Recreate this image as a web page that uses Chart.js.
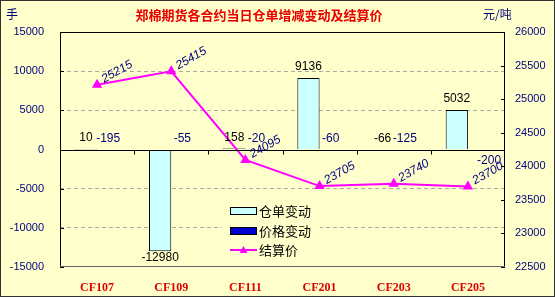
<!DOCTYPE html>
<html>
<head>
<meta charset="utf-8">
<script src="https://cdn.jsdelivr.net/npm/chart.js@4.4.1/dist/chart.umd.min.js"></script>
<style>
  html, body { margin: 0; padding: 0; background: #ffffcc; }
</style>
</head>
<body>
<canvas id="cotton" width="555" height="297"></canvas>
<script>
"use strict"
// data
const contracts = ["CF107", "CF109", "CF111", "CF201", "CF203", "CF205"];
const receiptChange = [10, -12980, 158, 9136, -66, 5032];   // 仓单变动 (手)
const priceChange = [-195, -55, -20, -60, -125, -200];      // 价格变动
const settlePrice = [25215, 25415, 24095, 23705, 23740, 23700]; // 结算价 (元/吨)
const seriesNames = ["仓单变动", "价格变动", "结算价"];
const chartTitle = "郑棉期货各合约当日仓单增减变动及结算价";

const BG = "#ffffcc";
const NAVY = "#000080";
const CJK = "'Noto Sans CJK SC', sans-serif";
const SANS = "'Liberation Sans', Arial, sans-serif";

// background, frame, title, units
const backdrop = {
  id: "backdrop",
  beforeDraw(chart) {
    const c = chart.ctx;
    c.save();
    c.fillStyle = BG;
    c.fillRect(0, 0, chart.width, chart.height);
    c.strokeStyle = "#333";
    c.lineWidth = 1;
    c.strokeRect(0.5, 0.5, chart.width - 1, chart.height - 1);
    c.fillStyle = "#e80000";
    c.font = "bold 13px " + CJK;
    c.textAlign = "center";
    c.textBaseline = "middle";
    c.fillText(chartTitle, 259, 15);
    c.fillStyle = NAVY;
    c.font = "12px " + CJK;
    c.textAlign = "left";
    c.fillText("手", 6, 14);
    c.fillText("元/吨", 483, 14);
    c.restore();
  }
};

// frame of plot, zero line, ticks, value labels, legend
const overlay = {
  id: "overlay",
  afterDatasetsDraw(chart) {
    const c = chart.ctx;
    const a = chart.chartArea;
    const x = chart.scales.x, y = chart.scales.y, y1 = chart.scales.y1;
    c.save();
    c.lineWidth = 1;
    c.strokeStyle = "#000";
    // frame
    c.beginPath();
    c.moveTo(a.left + 0.5, a.top + 0.5); c.lineTo(a.right - 0.5, a.top + 0.5);
    c.moveTo(a.left + 0.5, a.top); c.lineTo(a.left + 0.5, a.bottom);
    c.moveTo(a.right - 0.5, a.top); c.lineTo(a.right - 0.5, a.bottom);
    c.stroke();
    c.strokeStyle = "#666";
    c.beginPath();
    c.moveTo(a.left, a.bottom - 0.5); c.lineTo(a.right, a.bottom - 0.5);
    c.stroke();
    // zero line + category ticks
    const z = Math.round(y.getPixelForValue(0)) + 0.5;
    c.strokeStyle = "#000";
    c.beginPath();
    c.moveTo(a.left, z); c.lineTo(a.right, z);
    for (let i = 1; i < contracts.length; i++) {
      const bx = Math.round((x.getPixelForValue(i - 1) + x.getPixelForValue(i)) / 2) + 0.5;
      c.moveTo(bx, z); c.lineTo(bx, z + 4);
    }
    // inward axis ticks
    y.ticks.forEach(t => {
      const py = Math.round(y.getPixelForValue(t.value)) + 0.5;
      c.moveTo(a.left, py); c.lineTo(a.left + 4, py);
    });
    y1.ticks.forEach(t => {
      const py = Math.round(y1.getPixelForValue(t.value)) + 0.5;
      c.moveTo(a.right - 4, py); c.lineTo(a.right, py);
    });
    c.stroke();

    // bar value labels
    c.font = "12px " + SANS;
    c.textAlign = "center";
    chart.getDatasetMeta(0).data.forEach((bar, i) => {
      const v = receiptChange[i];
      c.fillStyle = "#000";
      if (v >= 0 || Math.abs(bar.y - bar.base) < 10) {
        c.textBaseline = "bottom";
        c.fillText(String(v), bar.x, Math.min(bar.y, bar.base) - 5);
      } else {
        c.textBaseline = "top";
        c.fillText(String(v), bar.x, bar.y + 1);
      }
    });
    const pm = chart.getDatasetMeta(1).data;
    pm.forEach((bar, i) => {
      c.fillStyle = NAVY;
      if (i === pm.length - 1) {
        c.textBaseline = "top";
        c.fillText(String(priceChange[i]), bar.x + 10, bar.base + 5);
      } else {
        c.textBaseline = "bottom";
        c.fillText(String(priceChange[i]), bar.x, bar.base - 5);
      }
    });

    // price labels, rotated
    c.fillStyle = NAVY;
    c.font = "italic 12px " + SANS;
    c.textAlign = "center";
    c.textBaseline = "middle";
    chart.getDatasetMeta(2).data.forEach((pt, i) => {
      c.save();
      c.translate(pt.x + 20, pt.y - 13);
      c.rotate(-0.52);
      c.fillText(String(settlePrice[i]), 0, 0);
      c.restore();
    });

    // legend inside the plot
    c.fillStyle = BG;
    c.fillRect(222, 199, 98, 62);
    c.font = "13px " + CJK;
    c.textAlign = "left";
    c.textBaseline = "middle";
    c.fillStyle = "#ccffff";
    c.fillRect(230.5, 207.5, 26, 7);
    c.strokeStyle = "#000";
    c.strokeRect(230.5, 207.5, 26, 7);
    c.fillStyle = "#0000cc";
    c.fillRect(230.5, 227.5, 26, 7);
    c.strokeRect(230.5, 227.5, 26, 7);
    c.strokeStyle = "#ff00ff";
    c.lineWidth = 2;
    c.beginPath();
    c.moveTo(230, 250); c.lineTo(257, 250);
    c.stroke();
    c.fillStyle = "#ff00ff";
    c.beginPath();
    c.moveTo(243.5, 246); c.lineTo(247.5, 253); c.lineTo(239.5, 253);
    c.closePath();
    c.fill();
    c.fillStyle = "#000";
    c.fillText(seriesNames[0], 259, 211);
    c.fillText(seriesNames[1], 259, 231);
    c.fillText(seriesNames[2], 259, 250);
    c.restore();
  }
};

const cottonC = document.getElementById("cotton");
const cottonChart = new Chart(cottonC, {
  data: {
    labels: contracts,
    datasets: [
      {
        type: "bar",
        label: seriesNames[0],
        data: receiptChange,
        backgroundColor: "#ccffff",
        borderColor: "#000",
        borderWidth: 1,
        yAxisID: "y",
        categoryPercentage: 0.6,
        barPercentage: 1.0,
        order: 2
      },
      {
        type: "bar",
        label: seriesNames[1],
        data: priceChange,
        backgroundColor: "#0000cc",
        borderColor: "#000",
        borderWidth: 1,
        yAxisID: "y",
        categoryPercentage: 0.6,
        barPercentage: 1.0,
        order: 2
      },
      {
        type: "line",
        label: seriesNames[2],
        data: settlePrice,
        borderColor: "#ff00ff",
        backgroundColor: "#ff00ff",
        borderWidth: 2,
        pointStyle: "triangle",
        pointRadius: 4,
        tension: 0,
        yAxisID: "y1",
        order: 1
      }
    ]
  },
  options: {
    responsive: false,
    animation: false,
    layout: { padding: { top: 32, left: 0, right: 0, bottom: 0 } },
    plugins: {
      legend: { display: false },
      tooltip: { enabled: false }
    },
    scales: {
      x: {
        offset: true,
        grid: { display: false },
        border: { display: false },
        ticks: { color: "#dd0000", padding: 6, font: { family: "'Liberation Serif', serif", weight: "bold", size: 12 } },
        afterFit: s => { s.height = 30; }
      },
      y: {
        position: "left",
        min: -15000,
        max: 15000,
        ticks: {
          stepSize: 5000, color: NAVY, padding: 16, font: { family: SANS, size: 11 },
          callback: v => String(v)
        },
        grid: {
          drawTicks: false,
          color: ctx => (Math.abs(ctx.tick.value) % 15000 === 0 ? "rgba(0,0,0,0)" : "#aaaaaa")
        },
        border: { display: false, dash: [4, 3] },
        afterFit: s => { s.width = 60; }
      },
      y1: {
        position: "right",
        min: 22500,
        max: 26000,
        ticks: {
          stepSize: 500, color: NAVY, padding: 10, font: { family: SANS, size: 11 },
          callback: v => String(v)
        },
        grid: { display: false, drawTicks: false },
        border: { display: false },
        afterFit: s => { s.width = 50; }
      }
    }
  },
  plugins: [backdrop, overlay]
});
</script>
</body>
</html>
